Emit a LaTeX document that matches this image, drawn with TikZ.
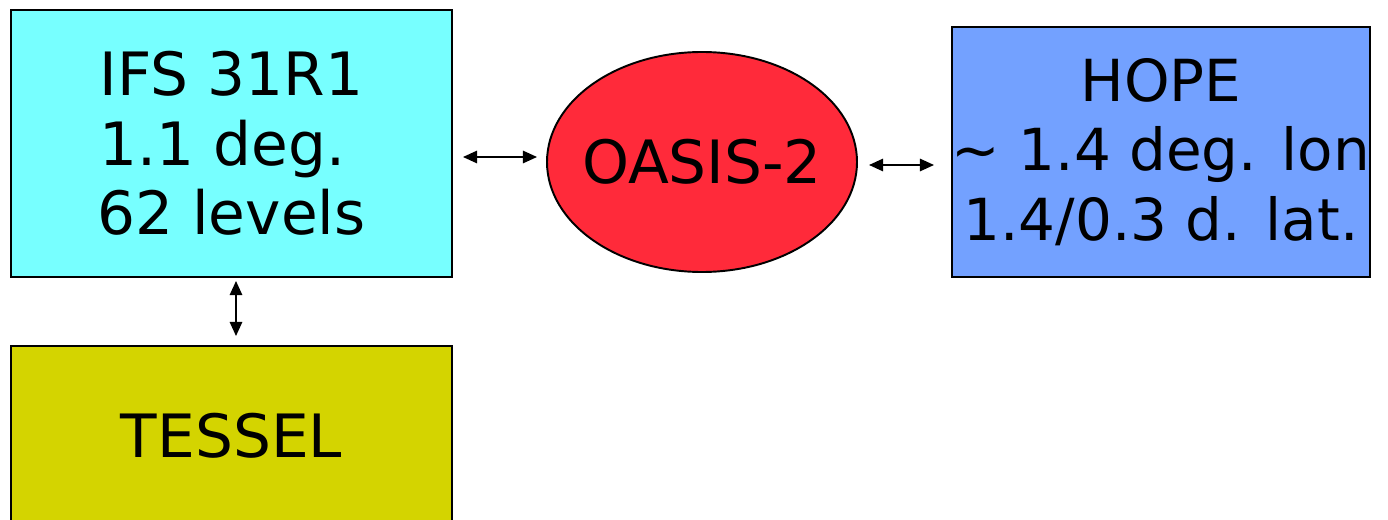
\documentclass[tikz,border=0pt]{standalone}
\usepackage{fontspec}
\setmainfont{DejaVu Sans}
\usetikzlibrary{arrows.meta,shapes.geometric}
\definecolor{ifscol}{HTML}{77FFFF}
\definecolor{oascol}{HTML}{FF2A3A}
\definecolor{hopecol}{HTML}{73A1FF}
\definecolor{tescol}{HTML}{D4D400}
\tikzset{
  box/.style={draw=black, line width=1.1pt, inner xsep=-20pt, inner ysep=0pt, align=center,
    font=\fontsize{34}{39.5}\selectfont},
  arr/.style={{Triangle[length=8pt,width=7pt]}-{Triangle[length=8pt,width=7pt]}, line width=1.1pt}
}
\begin{document}
\begin{tikzpicture}[x=0.02cm,y=-0.02cm]
\clip (0,0) rectangle (1388,520);
\fill[white] (0,0) rectangle (1388,520);
\node[box, fill=ifscol, minimum width=441*0.02cm, minimum height=267*0.02cm] (ifs) at (231.5,143.5) {IFS 31R1\\\hbox{1.1 deg.\kern0.3em}\\62 levels};
\node[box, fill=oascol, ellipse, inner xsep=-60pt, inner ysep=-20pt, minimum width=310*0.02cm, minimum height=220*0.02cm] (oasis) at (702,162) {OASIS-2};
\node[box, fill=hopecol, font=\fontsize{33}{39.5}\selectfont, minimum width=418*0.02cm, minimum height=250*0.02cm] (hope) at (1161,152) {HOPE\\\string~ 1.4 deg. lon\\1.4/0.3 d. lat.};
\node[box, fill=tescol, minimum width=441*0.02cm, minimum height=180*0.02cm] (tessel) at (231.5,436) {TESSEL};
\draw[arr] ([shift={(10,13.5)}]ifs.east) -- ([shift={(-9,-5)}]oasis.west);
\draw[arr] ([shift={(11,3)}]oasis.east) -- ([shift={(-17,13)}]hope.west);
\draw[arr] ([shift={(4.5,3)}]ifs.south) -- ([shift={(4.5,-9)}]tessel.north);
\end{tikzpicture}
\end{document}
